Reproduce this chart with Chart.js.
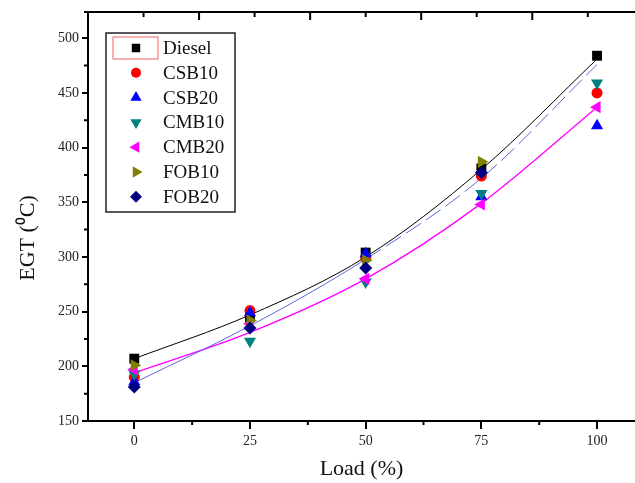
<!DOCTYPE html>
<html>
<head>
<meta charset="utf-8">
<script src="https://cdn.jsdelivr.net/npm/chart.js@4.4.1/dist/chart.umd.min.js"></script>
<style>
  html, body { margin: 0; padding: 0; background: #fff; }
</style>
</head>
<body>
<canvas id="egtChart" width="635" height="483"></canvas>
<script>
// engine load (%) and exhaust gas temperature readings
const loads = [0, 25, 50, 75, 100];
const diesel = [207, 245, 304, 381, 484];
const csb10 = [190, 251, 299, 374, 450];
const csb20 = [186, 249, 303, 355, 420];
const cmb10 = [193, 223, 277, 358, 459];
const cmb20 = [197, 239, 280, 348, 437];
const fob10 = [201, 242, 297, 387, null];
const fob20 = [181, 235, 290, 377, null];

// trend lines
const dieselFit = [207, 247, 300, 380, 481];
const blueFit = [185, 237, 298, 372, 476];
const pinkFit = [194, 231, 280, 349, 437];

const xTicks = [0, 25, 50, 75, 100];
const xMinor = [12.5, 37.5, 62.5, 87.5];
const yTicks = [150, 200, 250, 300, 350, 400, 450, 500];
const yMinor = [175, 225, 275, 325, 375, 425, 475];
const topMajor = [14, 38, 62, 86];
const topMinor = [2, 26, 50, 74, 98];

const serif = '"Liberation Serif", "Times New Roman", serif';
const xy = vals => loads.map((x, i) => ({ x: x, y: vals[i] }));

let markCount = 0;
function marks(label, vals, color, style, rotation, radius) {
    markCount++;
    return {
        label: label,
        data: xy(vals),
        order: 20 - markCount,   // later series sit on top
        showLine: false,
        pointStyle: style,
        pointRotation: rotation,
        pointRadius: radius,
        pointBackgroundColor: color,
        pointBorderColor: color,
        pointBorderWidth: 0
    };
}

function fit(vals, color, width, dashFrom) {
    return {
        label: 'fit',
        fit: true,
        order: 50,
        data: xy(vals),
        borderColor: color,
        borderWidth: width,
        pointRadius: 0,
        cubicInterpolationMode: 'monotone',
        segment: dashFrom == null ? {} : {
            borderDash: c => c.p0.parsed.x >= dashFrom ? [18, 6] : undefined
        }
    };
}

// axis frame: minor ticks, top border with inward ticks, y title
const frame = {
    id: 'frame',
    afterDraw(chart) {
        const { ctx, chartArea, scales } = chart;
        const x = scales.x, y = scales.y;
        ctx.save();
        ctx.strokeStyle = '#000';
        ctx.lineWidth = 2;
        ctx.beginPath();
        ctx.moveTo(chartArea.left - 4, chartArea.top);
        ctx.lineTo(chartArea.right, chartArea.top);
        xMinor.forEach(v => {
            const px = x.getPixelForValue(v);
            ctx.moveTo(px, chartArea.bottom);
            ctx.lineTo(px, chartArea.bottom + 4);
        });
        yMinor.forEach(v => {
            const py = y.getPixelForValue(v);
            ctx.moveTo(chartArea.left, py);
            ctx.lineTo(chartArea.left - 4, py);
        });
        topMajor.forEach(v => {
            const px = x.getPixelForValue(v);
            ctx.moveTo(px, chartArea.top);
            ctx.lineTo(px, chartArea.top + 8);
        });
        topMinor.forEach(v => {
            const px = x.getPixelForValue(v);
            ctx.moveTo(px, chartArea.top);
            ctx.lineTo(px, chartArea.top + 5);
        });
        ctx.stroke();

        ctx.translate(28, 238);
        ctx.rotate(-Math.PI / 2);
        ctx.fillStyle = '#111';
        ctx.font = '22px ' + serif;
        ctx.textAlign = 'center';
        ctx.textBaseline = 'middle';
        ctx.fillText('EGT (\u2070C)', 0, 0);
        ctx.restore();
    }
};

const legendBox = {
    id: 'legendBox',
    afterDraw(chart) {
        const { ctx, chartArea } = chart;
        const left = chartArea.left + 18, top = chartArea.top + 21;
        const w = 129, h = 179, rowH = 24.8;
        ctx.save();
        ctx.fillStyle = '#fff';
        ctx.fillRect(left, top, w, h);
        ctx.strokeStyle = '#222';
        ctx.lineWidth = 1.5;
        ctx.strokeRect(left, top, w, h);
        ctx.strokeStyle = '#f06060';
        ctx.lineWidth = 1;
        ctx.strokeRect(left + 7, top + 4, 45, 22);
        ctx.font = '19px ' + serif;
        ctx.textBaseline = 'middle';
        chart.data.datasets.filter(d => !d.fit).forEach((d, i) => {
            const cy = top + 15 + i * rowH;
            ctx.fillStyle = d.pointBackgroundColor;
            ctx.strokeStyle = d.pointBackgroundColor;
            Chart.helpers.drawPoint(ctx, {
                pointStyle: d.pointStyle,
                rotation: d.pointRotation,
                radius: d.pointStyle === 'rect' ? 6 : d.pointRadius - 0.5,
                borderWidth: 0
            }, left + 30, cy);
            ctx.fillStyle = '#111';
            ctx.fillText(d.label, left + 57, cy + 1);
        });
        ctx.restore();
    }
};

new Chart(document.getElementById('egtChart'), {
    type: 'line',
    data: {
        datasets: [
            fit(dieselFit, '#000000', 1, null),
            fit(blueFit, '#5a68e0', 1, 50),
            fit(pinkFit, '#ff00ff', 1.3, null),
            marks('Diesel', diesel, '#000000', 'rect', 0, 7),
            marks('CSB10', csb10, '#ff0000', 'circle', 0, 5.5),
            marks('CSB20', csb20, '#0000ff', 'triangle', 0, 7),
            marks('CMB10', cmb10, '#008080', 'triangle', 180, 7),
            marks('CMB20', cmb20, '#ff00ff', 'triangle', 270, 7),
            marks('FOB10', fob10, '#808000', 'triangle', 90, 7),
            marks('FOB20', fob20, '#000080', 'rectRot', 0, 6.5)
        ]
    },
    options: {
        responsive: false,
        animation: false,
        layout: { autoPadding: false, padding: { top: 12, right: 0, left: 0, bottom: 0 } },
        plugins: { legend: { display: false }, tooltip: { enabled: false } },
        scales: {
            x: {
                type: 'linear',
                min: -10,
                max: 108.2,
                afterBuildTicks: s => { s.ticks = xTicks.map(v => ({ value: v })); },
                afterFit: s => { s.height = 62; s.paddingLeft = 0; s.paddingRight = 0; },
                border: { color: '#000', width: 2 },
                grid: { drawOnChartArea: false, color: '#000', lineWidth: 2, tickLength: 8 },
                ticks: { font: { family: serif, size: 14 }, color: '#222', padding: 4, maxRotation: 0 },
                title: {
                    display: true, text: 'Load (%)', color: '#111',
                    font: { family: serif, size: 22 }, padding: { top: 0, bottom: 1 }
                }
            },
            y: {
                min: 150,
                max: 524,
                afterBuildTicks: s => { s.ticks = yTicks.map(v => ({ value: v })); },
                afterFit: s => { s.width = 88; s.paddingTop = 0; s.paddingBottom = 0; },
                border: { color: '#000', width: 2 },
                grid: { drawOnChartArea: false, color: '#000', lineWidth: 2, tickLength: 6 },
                ticks: { font: { family: serif, size: 14 }, color: '#222', padding: 3 }
            }
        }
    },
    plugins: [frame, legendBox]
});
</script>
</body>
</html>
